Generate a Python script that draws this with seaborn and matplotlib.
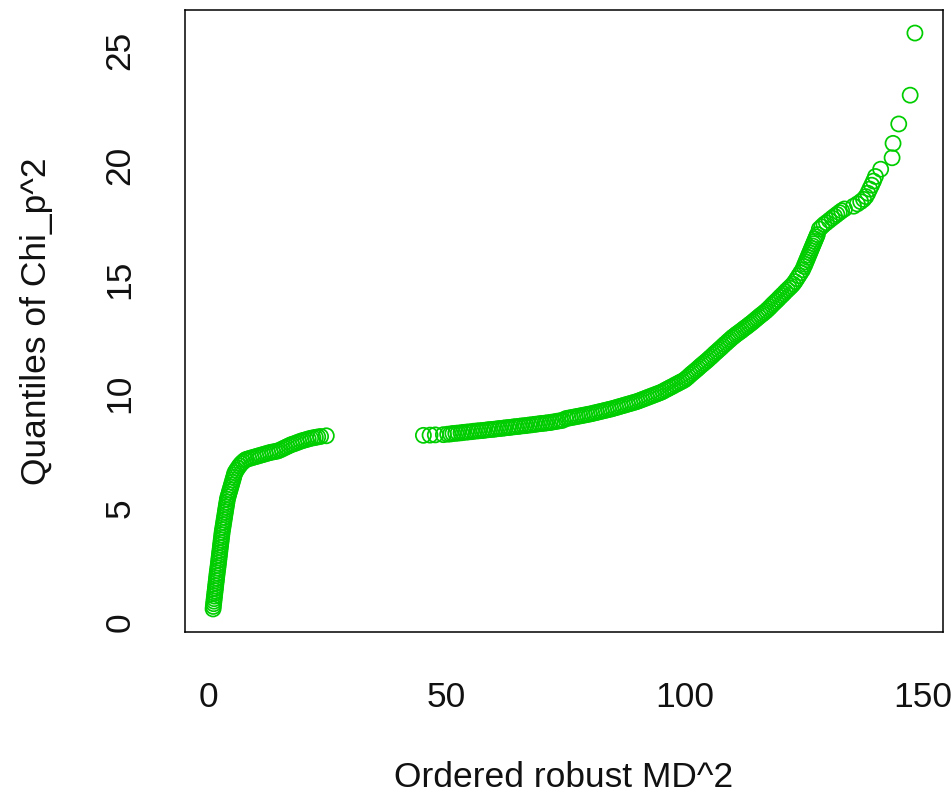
import numpy as np
import pandas as pd
import matplotlib
matplotlib.use("Agg")
import matplotlib.pyplot as plt
import seaborn as sns

# ---- data (ordered robust MD^2 vs chi-square quantiles) ----
md2_left = [0.90, 0.95, 1.02, 1.08, 1.14, 1.20, 1.26, 1.33, 1.39, 1.45, 1.51, 1.58, 1.64, 1.70, 1.76, 1.83, 1.90,
            1.97, 2.03, 2.10, 2.16, 2.22, 2.29, 2.35, 2.42, 2.48, 2.55, 2.61, 2.68, 2.74,
            2.80, 2.88, 2.97, 3.05, 3.14, 3.22, 3.31, 3.39, 3.48, 3.56, 3.65, 3.73, 3.82,
            3.90, 4.04, 4.18, 4.33, 4.47, 4.62, 4.76, 4.91, 5.06, 5.21, 5.36,
            5.50, 5.80, 6.12, 6.45, 6.80, 7.20, 7.60,
            7.9, 8.4, 8.9, 9.4, 9.9, 10.4, 10.9, 11.4, 11.9, 12.4, 12.9, 13.4, 13.9, 14.4, 14.9, 15.4,
            15.9, 16.4, 16.9, 17.4, 17.9, 18.4, 18.9, 19.4, 19.9, 20.4, 20.9, 21.4, 21.9, 22.4, 22.9, 23.5, 24.7]
chi_left = [0.57, 0.68, 0.80, 0.91, 1.02, 1.13, 1.25, 1.36, 1.47, 1.58, 1.70, 1.81, 1.92, 2.03, 2.14, 2.25, 2.36,
            2.47, 2.58, 2.70, 2.81, 2.92, 3.03, 3.14, 3.26, 3.37, 3.48, 3.59, 3.70, 3.81,
            3.92, 4.03, 4.14, 4.25, 4.36, 4.47, 4.58, 4.70, 4.81, 4.92, 5.03, 5.14, 5.25,
            5.37, 5.48, 5.58, 5.69, 5.79, 5.90, 6.00, 6.11, 6.22, 6.33, 6.44,
            6.54, 6.64, 6.74, 6.84, 6.93, 7.01, 7.08,
            7.12, 7.15, 7.18, 7.21, 7.24, 7.27, 7.30, 7.33, 7.36, 7.39, 7.42, 7.44, 7.46, 7.48, 7.52, 7.57,
            7.62, 7.67, 7.72, 7.77, 7.80, 7.84, 7.88, 7.92, 7.95, 7.98, 8.01, 8.04, 8.06, 8.08, 8.10, 8.12, 8.15]

md2_mid = [45.1, 46.5, 47.6, 49.3,
           50.2, 50.8, 51.3, 51.9, 52.4, 53.0, 53.5, 54.1, 54.6, 55.2, 55.7, 56.3, 56.8, 57.4, 57.9,
           58.5, 59.0, 59.6, 60.1, 60.7, 61.2, 61.8, 62.3, 62.9, 63.4, 64.0, 64.5, 65.1, 65.6, 66.2,
           66.7, 67.3, 67.8, 68.4, 68.9, 69.5, 70.0, 70.6, 71.1, 71.7, 72.2, 72.8, 73.3, 73.9, 74.4,
           75.0, 75.5, 76.0, 76.5, 77.0, 77.5, 78.0, 78.5, 79.0, 79.5,
           80.0, 80.5, 81.0, 81.5, 82.0, 82.5, 83.0, 83.5, 84.0, 84.5,
           85.0, 85.5, 86.0, 86.5, 87.0, 87.5, 88.0, 88.5, 89.0, 89.5,
           90.0, 90.5, 91.0, 91.5, 92.0, 92.5, 93.0, 93.5, 94.0, 94.5,
           95.0, 95.5, 96.0, 96.5, 97.0, 97.5, 98.0, 98.5, 99.0, 99.5]
chi_mid = [8.17, 8.18, 8.19, 8.20,
           8.22, 8.23, 8.25, 8.26, 8.27, 8.28, 8.30, 8.31, 8.32, 8.33, 8.35, 8.36, 8.37, 8.38, 8.39,
           8.41, 8.42, 8.43, 8.44, 8.46, 8.47, 8.48, 8.50, 8.51, 8.52, 8.54, 8.55, 8.56, 8.58, 8.59,
           8.60, 8.62, 8.63, 8.65, 8.66, 8.68, 8.69, 8.70, 8.72, 8.73, 8.75, 8.77, 8.79, 8.81, 8.83,
           8.90, 8.92, 8.94, 8.96, 8.98, 9.00, 9.02, 9.04, 9.06, 9.08,
           9.10, 9.12, 9.15, 9.17, 9.20, 9.22, 9.25, 9.27, 9.30, 9.32,
           9.35, 9.38, 9.41, 9.44, 9.47, 9.50, 9.53, 9.56, 9.59, 9.62,
           9.65, 9.69, 9.73, 9.77, 9.81, 9.85, 9.89, 9.93, 9.97, 10.01,
           10.05, 10.10, 10.16, 10.21, 10.27, 10.32, 10.38, 10.43, 10.49, 10.54]

md2_upper = [100.0, 100.4, 100.8, 101.2, 101.6, 102.0, 102.4, 102.8, 103.2, 103.6, 104.0, 104.4, 104.8,
             105.2, 105.6, 106.0, 106.4, 106.8, 107.2, 107.6, 108.0, 108.4, 108.8, 109.2, 109.6,
             110.0, 110.4, 110.8, 111.2, 111.6, 112.0, 112.4, 112.8, 113.2,
             113.6, 114.0, 114.4, 114.8, 115.2, 115.6, 116.0, 116.4, 116.8, 117.2,
             117.6, 118.0, 118.4, 118.8, 119.2, 119.6, 120.0, 120.4, 120.8, 121.2, 121.6, 122.0, 122.4, 122.8,
             123.2, 123.6, 124.0, 124.4, 124.8,
             125.1, 125.3, 125.5, 125.7, 125.9, 126.1, 126.3, 126.5, 126.7, 126.9, 127.1, 127.3, 127.5, 127.7, 127.9]
chi_upper = [10.60, 10.67, 10.74, 10.82, 10.89, 10.96, 11.03, 11.10, 11.18, 11.25, 11.32, 11.39, 11.46,
             11.54, 11.61, 11.69, 11.77, 11.84, 11.92, 11.99, 12.07, 12.15, 12.22, 12.30, 12.37,
             12.45, 12.51, 12.58, 12.64, 12.70, 12.76, 12.83, 12.89, 12.95,
             13.02, 13.08, 13.15, 13.22, 13.29, 13.36, 13.43, 13.49, 13.56, 13.63,
             13.71, 13.79, 13.88, 13.96, 14.04, 14.12, 14.21, 14.29, 14.37, 14.46, 14.54, 14.62, 14.70, 14.79,
             14.90, 15.03, 15.16, 15.29, 15.42,
             15.56, 15.66, 15.76, 15.86, 15.96, 16.06, 16.16, 16.26, 16.36, 16.46, 16.56, 16.66, 16.76, 16.86, 16.96]

md2_tail = [128.3, 128.8, 129.3, 129.8, 130.4, 131.0, 131.5, 132.0, 132.5, 133.0, 133.6,
            135.5, 136.3, 137.0, 137.6, 138.1, 138.5, 138.9, 139.3, 139.7, 140.1,
            141.2, 143.6, 143.8, 145.0, 147.4, 148.4]
chi_tail = [17.20, 17.30, 17.40, 17.48, 17.58, 17.68, 17.76, 17.84, 17.92, 18.00, 18.08,
            18.20, 18.30, 18.40, 18.50, 18.62, 18.77, 18.95, 19.12, 19.30, 19.50,
            19.82, 20.32, 20.95, 21.80, 23.06, 25.78]

x_ticks = [0, 50, 100, 150]
y_ticks = [0, 5, 10, 15, 20, 25]
x_label = "Ordered robust MD^2"
y_label = "Quantiles of Chi_p^2"

md2 = md2_left + md2_mid + md2_upper + md2_tail
chi = chi_left + chi_mid + chi_upper + chi_tail
df = pd.DataFrame({"md2": md2, "chi": chi})

# ---- drawing ----
sns.set_theme(style="white")
plt.rcParams["font.family"] = ["Liberation Sans", "DejaVu Sans"]

fig = plt.figure(figsize=(9.53, 8.08), dpi=100)
ax = fig.add_axes([185 / 953, 1 - 632 / 808, (943 - 185) / 953, (632 - 10) / 808])

sns.scatterplot(data=df, x="md2", y="chi", ax=ax, marker="o", s=118,
                color="#00CD00", linewidth=1.25, legend=False)
coll = ax.collections[0]
coll.set_facecolor("none")
coll.set_edgecolor("#00CD00")

xr = max(md2) - min(md2)
yr = max(chi) - min(chi)
ax.set_xlim(min(md2) - 0.04 * xr, max(md2) + 0.04 * xr)
ax.set_ylim(min(chi) - 0.04 * yr, max(chi) + 0.04 * yr)

ax.set_xticks(x_ticks)
ax.set_yticks(y_ticks)
ax.set_xticklabels([str(v) for v in x_ticks])
ax.set_yticklabels([str(v) for v in y_ticks], rotation=90, va="center")

fs = 25.5
ax.tick_params(axis="both", direction="out", length=13, width=0.9, color="black",
               labelsize=fs, labelcolor="#111111")
ax.tick_params(axis="x", pad=22)
ax.tick_params(axis="y", pad=22)
for sp in ax.spines.values():
    sp.set_visible(True)
    sp.set_color("black")
    sp.set_linewidth(1.1)

ax.set_xlabel(x_label, fontsize=fs, color="#111111", labelpad=34)
ax.set_ylabel(y_label, fontsize=fs, color="#111111", labelpad=36)
ax.grid(False)

fig.savefig("out.png", dpi=100, facecolor="white")
